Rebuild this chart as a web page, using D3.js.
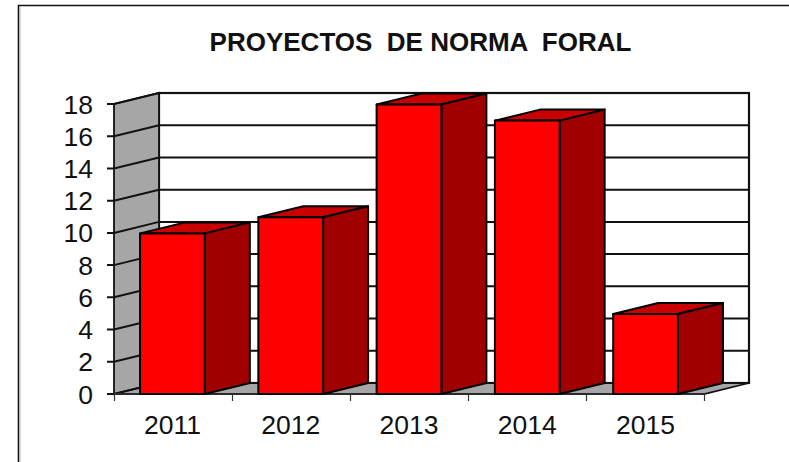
<!DOCTYPE html>
<html><head><meta charset="utf-8">
<style>html,body{margin:0;padding:0;background:#fff}svg{display:block}text{font-family:"Liberation Sans",Arial,sans-serif;fill:#111}</style>
<script src="https://cdnjs.cloudflare.com/ajax/libs/d3/7.8.5/d3.min.js"></script>
</head><body><svg id="c" width="789" height="462"></svg>
<script>
const titleText = "PROYECTOS  DE NORMA  FORAL";
const years = ["2011","2012","2013","2014","2015"];
const values = [10,11,18,17,5];
const yTicks = [0,2,4,6,8,10,12,14,16,18];

const svg = d3.select("#c");
const dx = 45, dy = -11;
const x = d3.scaleBand().domain(years).range([114,704]).paddingInner(0.4525).paddingOuter(0.2203);
const y = d3.scaleLinear().domain([0,18]).range([394,104]);
const x0 = 114, x1 = 704, yb = y(0), yt = y(18);
const line = d3.line();

// frame
svg.append("path").attr("d", line([[18.5,462],[18.5,5.5],[789,5.5]])).attr("fill","none").attr("stroke","#111").attr("stroke-width",1.6);
svg.append("line").attr("x1",20).attr("x2",20).attr("y1",7).attr("y2",462).attr("stroke","#bbb").attr("stroke-width",1);

// title
svg.append("text").attr("x",420.5).attr("y",51).attr("text-anchor","middle").attr("font-size",26).attr("font-weight","bold").style("white-space","pre").text(titleText);

// back wall
svg.append("rect").attr("x",x0+dx).attr("y",yt+dy).attr("width",x1-x0).attr("height",yb-yt).attr("fill","#fff").attr("stroke","#111").attr("stroke-width",2.2);
// side wall
svg.append("path").attr("d",line([[x0,yb],[x0,yt],[x0+dx,yt+dy],[x0+dx,yb+dy]])+"Z").attr("fill","#a6a6a6").attr("stroke","#111").attr("stroke-width",1.8);
// floor
svg.append("path").attr("d",line([[x0,yb],[x0+dx,yb+dy],[x1+dx,yb+dy],[x1,yb]])+"Z").attr("fill","#a6a6a6").attr("stroke","#111").attr("stroke-width",1.8);

// gridlines
const grid = svg.append("g").attr("fill","none").attr("stroke","#111").attr("stroke-width",2);
yTicks.forEach(t=>{
  grid.append("path").attr("d",line([[x0-7,y(t)],[x0,y(t)],[x0+dx,y(t)+dy],[x1+dx,y(t)+dy]]));
});

// axes labels
svg.append("g").selectAll("text").data(yTicks).join("text")
  .attr("x",x0-21).attr("y",d=>y(d)+9.5).attr("text-anchor","end").attr("font-size",26.5).text(d=>d);
const xStep = (x1-x0)/years.length;
const ticks = d3.range(years.length+1);
svg.append("g").selectAll("line").data(ticks).join("line")
  .attr("x1",d=>x0+d*xStep+.5).attr("x2",d=>x0+d*xStep+.5).attr("y1",yb).attr("y2",yb+7).attr("stroke","#333").attr("stroke-width",1.2);
svg.append("line").attr("x1",x0).attr("x2",x1).attr("y1",yb).attr("y2",yb).attr("stroke","#333").attr("stroke-width",1.6);
svg.append("g").selectAll("text").data(years).join("text")
  .attr("x",d=>x(d)+x.bandwidth()/2).attr("y",434).attr("text-anchor","middle").attr("font-size",26.5).text(d=>d);

// bars
const bars = svg.append("g").attr("stroke","#000").attr("stroke-width",2).attr("stroke-linejoin","round");
years.forEach((yr,i)=>{
  const l=x(yr), r=l+x.bandwidth(), t=y(values[i])+.5;
  bars.append("path").attr("fill","#c80000").attr("d",line([[l,t],[l+dx,t+dy],[r+dx,t+dy],[r,t]])+"Z");
  bars.append("path").attr("fill","#a00000").attr("d",line([[r,t],[r+dx,t+dy],[r+dx,yb+dy],[r,yb]])+"Z");
  bars.append("rect").attr("fill","#ff0000").attr("x",l).attr("y",t).attr("width",x.bandwidth()).attr("height",yb-t);
});
</script></body></html>
